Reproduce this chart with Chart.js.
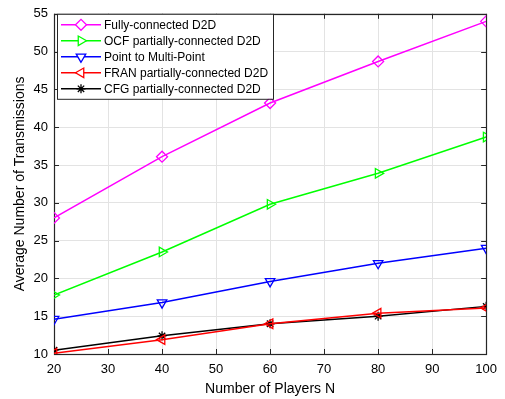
<!DOCTYPE html>
<html>
<head>
<meta charset="utf-8">
<script src="https://cdn.jsdelivr.net/npm/chart.js@4.4.0/dist/chart.umd.min.js"></script>
<style>
  html, body { margin: 0; padding: 0; background: #fff; }
  #wrap { width: 505px; height: 399px; }
</style>
</head>
<body>
<div id="wrap"><canvas id="chart" width="505" height="399"></canvas></div>
<script>
// data
const players = [20, 40, 60, 80, 100];
const xTicks = [20, 30, 40, 50, 60, 70, 80, 90, 100];
const yTicks = [10, 15, 20, 25, 30, 35, 40, 45, 50, 55];

const fullyD2D = [28.0, 36.1, 43.2, 48.7, 54.0];
const ocfD2D = [17.8, 23.5, 29.8, 33.9, 38.7];
const p2mp = [14.6, 16.8, 19.6, 22.0, 24.0];
const franD2D = [10.1, 11.9, 14.0, 15.4, 16.1];
const cfgD2D = [10.5, 12.4, 14.0, 15.0, 16.3];

const seriesNames = [
    'Fully-connected D2D',
    'OCF partially-connected D2D',
    'Point to Multi-Point',
    'FRAN partially-connected D2D',
    'CFG partially-connected D2D'
];

const FONT = '"Liberation Sans", Arial, Helvetica, sans-serif';

function mk(label, values, color, style, rot, radius) {
    return {
        label: label,
        data: values.map((v, i) => ({ x: players[i], y: v })),
        borderColor: color,
        backgroundColor: color,
        pointBorderColor: color,
        pointBackgroundColor: 'rgba(0,0,0,0)',
        pointStyle: style,
        rotation: rot,
        pointRadius: radius,
        pointHoverRadius: radius,
        pointBorderWidth: 1.3,
        borderWidth: 1.5,
        tension: 0,
        fill: false
    };
}

const datasets = [
    mk(seriesNames[0], fullyD2D, '#ff00ff', 'rectRot', 0, 5.5),
    mk(seriesNames[1], ocfD2D, '#00ff00', 'triangle', 90, 5.5),
    mk(seriesNames[2], p2mp, '#0000ff', 'triangle', 180, 5.5),
    mk(seriesNames[3], franD2D, '#ff0000', 'triangle', 270, 5.5),
    mk(seriesNames[4], cfgD2D, '#000000', 'star', 0, 4.5)
];

// box around plot with inward ticks on all four sides (matlab style)
const boxPlugin = {
    id: 'matlabBox',
    beforeDatasetsDraw(chart) {
        const { ctx, chartArea: a, scales } = chart;
        ctx.save();
        ctx.strokeStyle = '#262626';
        ctx.lineWidth = 1;
        ctx.beginPath();
        xTicks.forEach(t => {
            const px = Math.round(scales.x.getPixelForValue(t)) + 0.5;
            ctx.moveTo(px, a.bottom); ctx.lineTo(px, a.bottom - 5);
            ctx.moveTo(px, a.top); ctx.lineTo(px, a.top + 5);
        });
        yTicks.forEach(t => {
            const py = Math.round(scales.y.getPixelForValue(t)) + 0.5;
            ctx.moveTo(a.left, py); ctx.lineTo(a.left + 5, py);
            ctx.moveTo(a.right, py); ctx.lineTo(a.right - 5, py);
        });
        ctx.stroke();
        ctx.lineWidth = 1.2;
        ctx.strokeRect(Math.round(a.left) + 0.5, Math.round(a.top) + 0.5,
            Math.round(a.right - a.left), Math.round(a.bottom - a.top));
        ctx.restore();
    }
};

// legend drawn inside the axes, top-left
const legendPlugin = {
    id: 'insideLegend',
    afterDatasetsDraw(chart) {
        const { ctx, chartArea: a } = chart;
        const x0 = a.left + 3, y0 = a.top, w = 216, h = 85, row = 16;
        ctx.save();
        ctx.fillStyle = '#fff';
        ctx.fillRect(x0, y0, w, h);
        ctx.strokeStyle = '#262626';
        ctx.lineWidth = 1;
        ctx.strokeRect(x0 + 0.5, y0 + 0.5, w, h);
        ctx.font = '12px ' + FONT;
        ctx.textBaseline = 'middle';
        chart.data.datasets.forEach((ds, i) => {
            const cy = y0 + 11 + i * row;
            ctx.strokeStyle = ds.borderColor;
            ctx.lineWidth = 1.5;
            ctx.beginPath();
            ctx.moveTo(x0 + 4, cy); ctx.lineTo(x0 + 44, cy);
            ctx.stroke();
            ctx.lineWidth = ds.pointBorderWidth;
            ctx.fillStyle = '#fff';
            Chart.helpers.drawPoint(ctx, {
                pointStyle: ds.pointStyle,
                rotation: ds.rotation,
                radius: ds.pointRadius,
                borderWidth: ds.pointBorderWidth
            }, x0 + 24, cy);
            ctx.fillStyle = '#000';
            ctx.fillText(ds.label, x0 + 47, cy + 1);
        });
        ctx.restore();
    }
};

new Chart(document.getElementById('chart'), {
    type: 'line',
    data: { datasets: datasets },
    options: {
        responsive: false,
        animation: false,
        events: [],
        layout: { padding: { top: 12, right: 17, left: 0, bottom: 0 } },
        plugins: {
            legend: { display: false },
            tooltip: { enabled: false }
        },
        scales: {
            x: {
                type: 'linear',
                min: 20, max: 100,
                afterBuildTicks: s => { s.ticks = xTicks.map(v => ({ value: v })); },
                afterFit: s => { s.height = 45; },
                grid: { color: '#e3e3e3', drawTicks: false, lineWidth: 1 },
                border: { display: false },
                ticks: { color: '#000', font: { family: FONT, size: 13 }, padding: 8, maxRotation: 0 },
                title: { display: true, text: 'Number of Players N', color: '#000',
                    font: { family: FONT, size: 14 }, padding: { top: 0, bottom: 1 } }
            },
            y: {
                type: 'linear',
                min: 10, max: 55,
                afterBuildTicks: s => { s.ticks = yTicks.map(v => ({ value: v })); },
                afterFit: s => { s.width = 54; },
                grid: { color: '#e3e3e3', drawTicks: false, lineWidth: 1 },
                border: { display: false },
                ticks: { color: '#000', font: { family: FONT, size: 13 }, padding: 6 },
                title: { display: true, text: 'Average Number of Transmissions', color: '#000',
                    font: { family: FONT, size: 14 }, padding: { top: 12, bottom: 0 } }
            }
        }
    },
    plugins: [boxPlugin, legendPlugin]
});
</script>
</body>
</html>
